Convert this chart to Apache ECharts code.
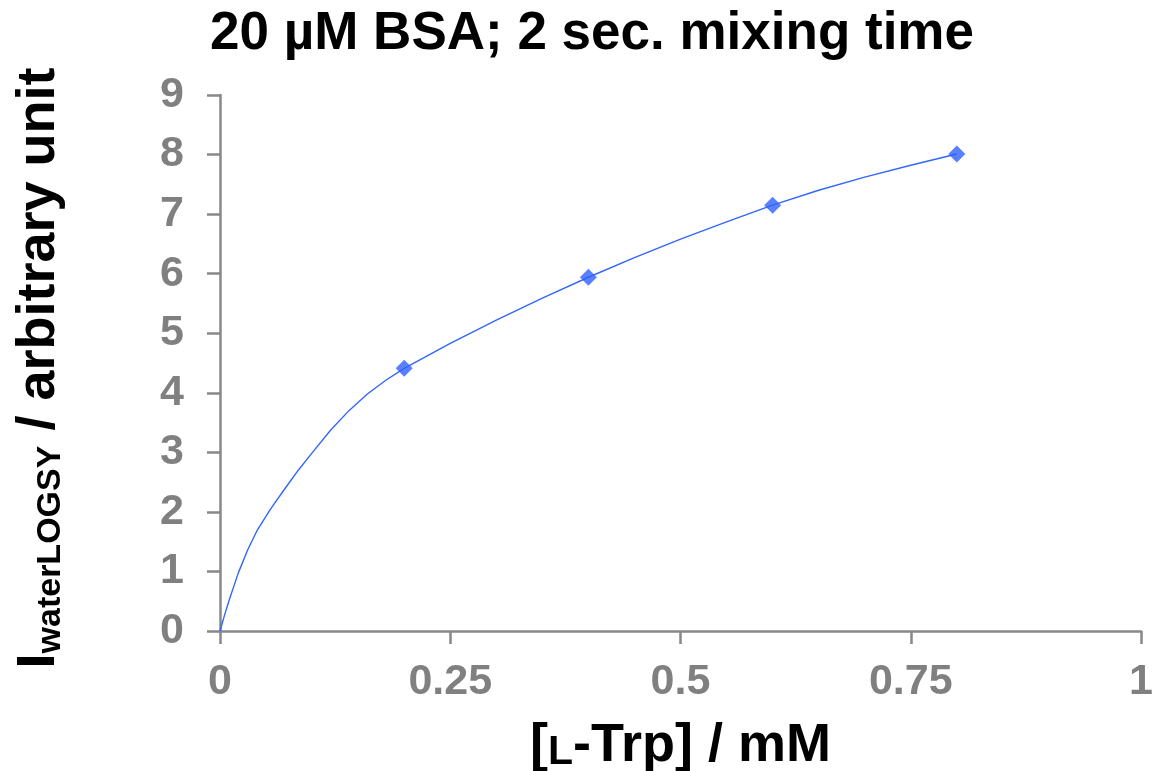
<!DOCTYPE html>
<html>
<head>
<meta charset="utf-8">
<script src="https://cdn.jsdelivr.net/npm/echarts@6/dist/echarts.min.js"></script>
<style>
html,body{margin:0;padding:0;background:#fff;}
#chart{width:1154px;height:771px;}
</style>
</head>
<body>
<div id="chart"></div>
<script>
// Measured points
const trpConc = [0.2, 0.4, 0.6, 0.8];
const intensity = [4.41, 5.94, 7.15, 8.01];
// Fitted curve
const fitX = [0, 0.005, 0.01, 0.02, 0.03, 0.04, 0.055, 0.07, 0.085, 0.1, 0.12, 0.14, 0.16, 0.18, 0.2, 0.25, 0.3, 0.35, 0.4, 0.45, 0.5, 0.55, 0.6, 0.65, 0.7, 0.75, 0.8];
const fitY = [0, 0.27, 0.52, 0.98, 1.36, 1.68, 2.05, 2.38, 2.70, 2.99, 3.37, 3.70, 3.98, 4.21, 4.41, 4.83, 5.22, 5.59, 5.94, 6.27, 6.58, 6.87, 7.15, 7.40, 7.62, 7.82, 8.01];
// Axis ticks
const xTicks = [0, 0.25, 0.5, 0.75, 1];
const yTicks = [0, 1, 2, 3, 4, 5, 6, 7, 8, 9];

const FONT = "'Liberation Sans', Arial, Helvetica, sans-serif";
const chart = echarts.init(document.getElementById('chart'), null, {renderer: 'canvas'});

const option = {
  backgroundColor: '#ffffff',
  animation: false,
  title: {
    text: '20 µM BSA; 2 sec. mixing time',
    left: 587,
    top: 3,
    textAlign: 'center',
    textStyle: {fontFamily: FONT, fontWeight: 'bold', fontSize: 53, color: '#000'}
  },
  grid: {left: 220, right: 13, top: 95, bottom: 140, containLabel: false, outerBoundsMode: 'none'},
  xAxis: {
    type: 'value',
    min: xTicks[0],
    max: xTicks[xTicks.length - 1],
    interval: xTicks[1] - xTicks[0],
    name: '{m|[}{s|L}{m|-Trp] / mM}',
    nameLocation: 'middle',
    nameGap: 84,
    nameTextStyle: {
      rich: {
        m: {fontFamily: FONT, fontWeight: 'bold', fontSize: 54, color: '#000', lineHeight: 58, verticalAlign: 'bottom'},
        s: {fontFamily: FONT, fontWeight: 'bold', fontSize: 41, color: '#000', lineHeight: 49, verticalAlign: 'bottom'}
      }
    },
    axisLine: {show: true, onZero: false, lineStyle: {color: '#888888', width: 2.5}},
    axisTick: {show: true, inside: false, length: 13, lineStyle: {color: '#888888', width: 2.5}},
    axisLabel: {
      margin: 30,
      fontFamily: FONT, fontWeight: 'bold', fontSize: 43, color: '#808080',
      formatter: function (v) { return String(v); }
    },
    splitLine: {show: false}
  },
  yAxis: {
    type: 'value',
    min: yTicks[0],
    max: yTicks[yTicks.length - 1],
    interval: yTicks[1] - yTicks[0],
    name: '{m|I}{s|waterLOGSY}{m| / arbitrary unit}',
    nameLocation: 'middle',
    nameRotate: 90,
    nameGap: 152,
    nameTextStyle: {
      padding: [0, 10, 0, 0],
      rich: {
        m: {fontFamily: FONT, fontWeight: 'bold', fontSize: 54, color: '#000', lineHeight: 58},
        s: {fontFamily: FONT, fontWeight: 'bold', fontSize: 34, color: '#000', lineHeight: 35, verticalAlign: 'bottom'}
      }
    },
    axisLine: {show: true, onZero: false, lineStyle: {color: '#888888', width: 2.5}},
    axisTick: {show: true, inside: false, length: 13, lineStyle: {color: '#888888', width: 2.5}},
    axisLabel: {
      margin: 36,
      fontFamily: FONT, fontWeight: 'bold', fontSize: 43, color: '#808080'
    },
    splitLine: {show: false}
  },
  series: [
    {
      type: 'line',
      data: fitX.map((x, i) => [x, fitY[i]]),
      smooth: false,
      showSymbol: false,
      symbol: 'none',
      lineStyle: {color: '#3366ff', width: 1.4, join: 'round'},
      z: 2
    },
    {
      type: 'scatter',
      data: trpConc.map((x, i) => [x, intensity[i]]),
      symbol: 'diamond',
      symbolSize: 17,
      itemStyle: {color: '#2f62ff'},
      z: 3
    }
  ]
};
chart.setOption(option);
</script>
</body>
</html>
